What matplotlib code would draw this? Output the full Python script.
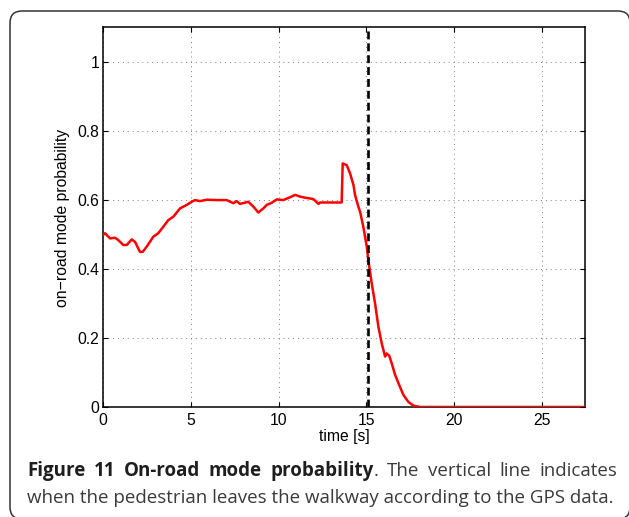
import matplotlib
matplotlib.use("Agg")
import matplotlib.pyplot as plt
from matplotlib.patches import FancyBboxPatch
from matplotlib.transforms import IdentityTransform

# On-road mode probability over time
time_s = [0.0, 0.13, 0.42, 0.70, 0.89, 1.17, 1.37, 1.65, 1.84, 2.12, 2.27, 2.50,
          2.88, 3.16, 3.45, 3.73, 4.02, 4.40, 4.78, 5.06, 5.25, 5.53, 5.92, 6.48,
          7.05, 7.43, 7.62, 7.81, 8.28, 8.57, 8.85, 9.14, 9.33, 9.61, 9.90, 10.27,
          10.65, 10.94, 11.23, 11.50, 11.98, 12.27, 12.36, 13.59, 13.65, 13.88,
          14.07, 14.26, 14.35, 14.54, 14.64, 14.82, 15.02, 15.11, 15.30, 15.49,
          15.68, 15.87, 16.06, 16.15, 16.30, 16.44, 16.63, 16.82, 17.10, 17.38,
          17.67, 18.05, 27.43]
on_road_prob = [0.497, 0.503, 0.488, 0.490, 0.483, 0.469, 0.469, 0.485, 0.478,
                0.449, 0.449, 0.464, 0.493, 0.503, 0.522, 0.541, 0.551, 0.575,
                0.585, 0.594, 0.599, 0.596, 0.600, 0.599, 0.599, 0.590, 0.596,
                0.588, 0.594, 0.580, 0.563, 0.575, 0.585, 0.591, 0.601, 0.599,
                0.607, 0.614, 0.609, 0.606, 0.602, 0.588, 0.592, 0.592, 0.705,
                0.700, 0.676, 0.643, 0.614, 0.580, 0.565, 0.522, 0.464, 0.425,
                0.358, 0.300, 0.232, 0.184, 0.146, 0.155, 0.148, 0.126, 0.093,
                0.069, 0.035, 0.015, 0.004, 0.0, 0.0]
gps_leave_time = 15.1

x_ticks = [0, 5, 10, 15, 20, 25]
y_ticks = [0, 0.2, 0.4, 0.6, 0.8, 1]
y_tick_labels = ["0", "0.2", "0.4", "0.6", "0.8", "1"]

caption_bold = ["Figure", "11", "On-road", "mode", "probability"]
caption_rest1 = [".", "The", "vertical", "line", "indicates"]
caption_line2 = "when the pedestrian leaves the walkway according to the GPS data."

W, H = 629, 517
fig = plt.figure(figsize=(W / 100, H / 100), dpi=100)
fig.patch.set_facecolor("white")

# rounded frame around figure and caption
frame = FancyBboxPatch((10, H - 519), 620, 508,
                       boxstyle="round,pad=0,rounding_size=12",
                       transform=IdentityTransform(), fill=False,
                       edgecolor="#333333", linewidth=1.1, zorder=0)
fig.patches.append(frame)

ax = fig.add_axes([102.7 / W, 1 - 407 / H, (585 - 102.7) / W, (407 - 27) / H])
ax.plot(time_s, on_road_prob, color="red", linewidth=1.8,
        solid_joinstyle="round", zorder=3)
ax.axvline(gps_leave_time, color="black", linewidth=1.9,
           dashes=(3, 1.5), zorder=4)

ax.set_xlim(0, 27.43)
ax.set_ylim(0, 1.1)
ax.set_xticks(x_ticks)
ax.set_yticks(y_ticks)
ax.set_yticklabels(y_tick_labels)

tick_font = "Liberation Sans"
for lbl in ax.get_xticklabels() + ax.get_yticklabels():
    lbl.set_fontfamily(tick_font)
    lbl.set_fontsize(11.3)

ax.tick_params(direction="in", length=3.5, width=0.8, top=True, right=True,
               colors="black")
ax.tick_params(axis="x", pad=4.5)
ax.tick_params(axis="y", pad=2.5)
for sp in ax.spines.values():
    sp.set_linewidth(1.1)
    sp.set_color("black")

ax.grid(True, color="0.5", linewidth=0.7, linestyle=(0, (1, 4)))
ax.set_axisbelow(True)

fig.text(62 / W, 1 - 217.5 / H, "on\u2212road mode probability", rotation=90,
         ha="center", va="center", fontsize=11.3, family=tick_font)
fig.text(344 / W, 1 - 437 / H, "time [s]", ha="center", va="center",
         fontsize=11.3, family=tick_font)

# caption, justified between left_px and right_px
cap_font = "Open Sans"
left_px, right_px = 27, 617
renderer = fig.canvas.get_renderer()
t2 = fig.text(left_px / W, 1 - 503 / H, caption_line2, ha="left",
              va="baseline", fontsize=11, family=cap_font, color="#3a3a3a")
w = t2.get_window_extent(renderer).width
size = 11 * (right_px - left_px) / w
t2.set_fontsize(size)

words = [(wd, "bold", "#1e1e1e") for wd in caption_bold]
words += [(wd, "normal", "#3a3a3a") for wd in caption_rest1]
items = []
for wd, weight, col in words:
    t = fig.text(0, 1 - 476 / H, wd, ha="left", va="baseline", fontsize=size,
                 family=cap_font, fontweight=weight, color=col)
    items.append((wd, t, t.get_window_extent(renderer).width))
# the period sticks to the preceding word
n_gaps = len(items) - 2
total = sum(it[2] for it in items)
gap = (right_px - left_px - total) / n_gaps
x = left_px
for i, (wd, t, wdt) in enumerate(items):
    if wd == "." or i == 0:
        pass
    else:
        x += gap
    t.set_x(x / W)
    x += wdt

fig.savefig("out.png", dpi=100, facecolor="white")
